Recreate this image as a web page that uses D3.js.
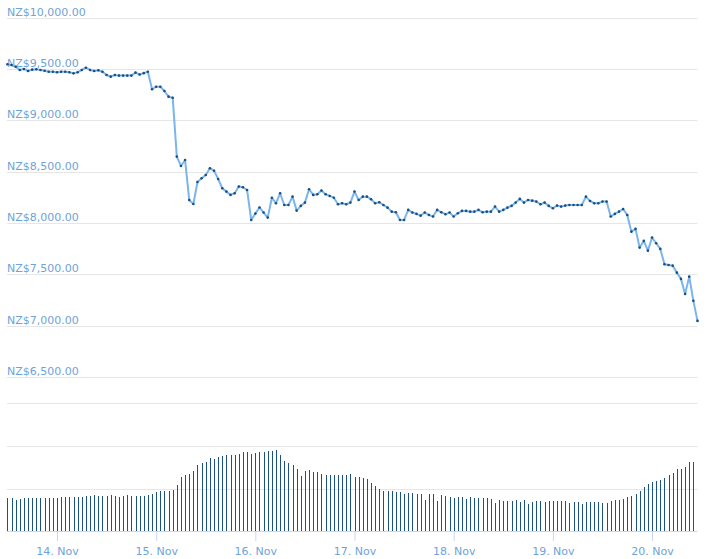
<!DOCTYPE html>
<html>
<head>
<meta charset="utf-8">
<script src="https://cdn.jsdelivr.net/npm/d3@7"></script>
<style>
  html, body { margin: 0; padding: 0; background: #fff; }
  svg { display: block; font-family: "DejaVu Sans", sans-serif; }
</style>
</head>
<body>
<svg id="chart" width="707" height="559"></svg>
<script>
// ---- data (hourly, 13 Nov 2018 12:00 UTC onward) ----
const startTime = "2018-11-13T12:00:00Z";
const stepHours = 1;

const price = [
  9544, 9537, 9521, 9489, 9499, 9479, 9492, 9496, 9489, 9482,
  9472, 9472, 9466, 9472, 9472, 9466, 9456, 9466, 9489, 9511,
  9489, 9479, 9486, 9472, 9440, 9424, 9440, 9434, 9434, 9434,
  9434, 9463, 9445, 9458, 9472, 9301, 9326, 9326, 9284, 9229,
  9219, 8645, 8554, 8612, 8223, 8184, 8398, 8434, 8466, 8532,
  8508, 8427, 8337, 8304, 8272, 8288, 8353, 8347, 8320, 8028,
  8090, 8150, 8100, 8051, 8245, 8191, 8288, 8174, 8174, 8255,
  8119, 8165, 8197, 8327, 8272, 8278, 8314, 8278, 8262, 8245,
  8181, 8191, 8181, 8197, 8304, 8223, 8255, 8255, 8230, 8191,
  8200, 8174, 8148, 8109, 8103, 8028, 8028, 8126, 8100, 8087,
  8070, 8100, 8077, 8061, 8126, 8103, 8084, 8100, 8061, 8093,
  8116, 8116, 8109, 8109, 8126, 8103, 8109, 8109, 8158, 8109,
  8126, 8148, 8165, 8197, 8233, 8197, 8223, 8216, 8207, 8181,
  8197, 8165, 8142, 8168, 8158, 8168, 8174, 8174, 8174, 8174,
  8255, 8213, 8191, 8191, 8207, 8207, 8061, 8087, 8109, 8135,
  8077, 7914, 7941, 7759, 7824, 7729, 7856, 7801, 7746, 7597,
  7590, 7583, 7515, 7454, 7308, 7476, 7240, 7045
];

// volume, NZ$ billions
const volume = [
  7.7, 7.7, 7.3, 7.5, 7.7, 7.7, 7.7, 7.7, 7.7, 7.7,
  7.7, 7.7, 7.7, 7.9, 7.9, 7.9, 7.9, 7.9, 8.1, 8.2,
  8.2, 8.4, 8.2, 8.2, 8.2, 8.4, 8.2, 7.9, 8.2, 8.4,
  8.2, 8.2, 8.2, 8.2, 8.4, 8.6, 9.2, 9.5, 9.5, 9.3,
  9.6, 10.8, 12.8, 13.2, 13.3, 14.2, 15.5, 15.9, 16.2, 17.1,
  16.9, 17.3, 17.6, 17.8, 18.0, 18.0, 18.2, 18.5, 18.5, 18.1,
  18.4, 18.5, 18.5, 18.8, 18.8, 19.0, 17.9, 16.4, 15.9, 15.5,
  14.5, 12.9, 14.1, 14.3, 13.8, 13.8, 13.5, 13.2, 13.2, 13.2,
  13.1, 13.1, 13.2, 13.4, 12.8, 12.6, 12.4, 12.2, 11.2, 10.5,
  10.0, 9.3, 9.4, 9.4, 9.2, 9.2, 8.6, 8.9, 8.9, 8.7,
  8.7, 7.3, 8.7, 8.7, 7.1, 8.5, 8.2, 7.9, 7.7, 7.9,
  7.9, 7.5, 7.9, 7.8, 7.8, 7.8, 7.8, 7.5, 6.5, 7.2,
  7.1, 7.1, 7.1, 7.2, 6.8, 7.2, 6.4, 6.9, 7.1, 7.1,
  6.8, 7.1, 7.1, 7.1, 7.1, 7.1, 6.7, 6.8, 6.8, 6.4,
  6.8, 6.8, 6.8, 6.8, 6.7, 6.7, 7.1, 7.3, 7.3, 7.5,
  7.9, 8.2, 8.7, 9.3, 10.4, 11.1, 11.5, 11.8, 12.0, 12.5,
  13.1, 13.6, 14.5, 14.7, 15.0, 16.2, 16.2
];

const priceTicks = [6500, 7000, 7500, 8000, 8500, 9000, 9500, 10000];
const priceDomain = [6250, 10000];
const volumeTicks = [10, 20];
const volumeDomain = [0, 20];

// ---- layout ----
const svg = d3.select("#chart");
const left = 7, right = 697.5;
const priceTop = 17.5, priceBottom = 402.5;
const volTop = 446, volBottom = 531;

const t0 = new Date(startTime);
const times = price.map((_, i) => d3.utcHour.offset(t0, i * stepHours));

const x = d3.scaleUtc()
  .domain([times[0], times[times.length - 1]])
  .range([left + 0.4, right]);

const y = d3.scaleLinear().domain(priceDomain).range([priceBottom, priceTop]);
const yv = d3.scaleLinear().domain(volumeDomain).range([volBottom, volTop]);

const gridColor = "#e6e6e6";
const labelColor = "#6fa3d9";
const fmt = d3.format(",.2f");

// price grid
const gPrice = svg.append("g");
gPrice.selectAll("line.grid")
  .data(priceTicks)
  .join("line")
  .attr("x1", left).attr("x2", right)
  .attr("y1", d => Math.round(y(d)) + 0.5).attr("y2", d => Math.round(y(d)) + 0.5)
  .attr("stroke", gridColor);
gPrice.append("line")
  .attr("x1", left).attr("x2", right)
  .attr("y1", Math.round(y(priceDomain[0])) + 0.5).attr("y2", Math.round(y(priceDomain[0])) + 0.5)
  .attr("stroke", gridColor);
gPrice.selectAll("text")
  .data(priceTicks)
  .join("text")
  .attr("x", left)
  .attr("y", d => Math.round(y(d)) - 2)
  .attr("fill", labelColor)
  .attr("font-size", 11)
  .text(d => "NZ$" + fmt(d));

// volume grid
const gVol = svg.append("g");
gVol.selectAll("line.grid")
  .data(volumeTicks)
  .join("line")
  .attr("x1", left).attr("x2", right)
  .attr("y1", d => Math.round(yv(d)) + 0.5).attr("y2", d => Math.round(yv(d)) + 0.5)
  .attr("stroke", gridColor);

// volume bars
gVol.selectAll("rect")
  .data(volume)
  .join("rect")
  .attr("x", (d, i) => Math.round(x(times[i])))
  .attr("width", 1)
  .attr("y", d => Math.round(yv(d)))
  .attr("height", d => volBottom - Math.round(yv(d)))
  .attr("shape-rendering", "crispEdges")
  .attr("fill", "#1a5283");

// x axis
const xAxis = d3.axisBottom(x)
  .ticks(d3.utcDay.every(1))
  .tickFormat(d3.utcFormat("%-d. %b"))
  .tickSize(10)
  .tickPadding(6);
const gx = svg.append("g")
  .attr("transform", `translate(0,${volBottom})`)
  .call(xAxis);
gx.select(".domain").attr("stroke", "#ccd6eb").attr("d", `M${left},0.5H${right}`);
gx.selectAll(".tick line").attr("stroke", "#ccd6eb");
gx.selectAll(".tick text")
  .attr("fill", labelColor)
  .attr("font-size", 11)
  .attr("font-family", "DejaVu Sans, sans-serif");

// price line
const line = d3.line()
  .x((d, i) => x(times[i]))
  .y(d => y(d));
svg.append("path")
  .datum(price)
  .attr("d", line)
  .attr("fill", "none")
  .attr("stroke", "#7cb5ec")
  .attr("stroke-width", 2)
  .attr("stroke-linejoin", "round");

svg.append("g").selectAll("circle")
  .data(price)
  .join("circle")
  .attr("cx", (d, i) => x(times[i]))
  .attr("cy", d => y(d))
  .attr("r", 1.3)
  .attr("fill", "#1b4f80");
</script>
</body>
</html>
